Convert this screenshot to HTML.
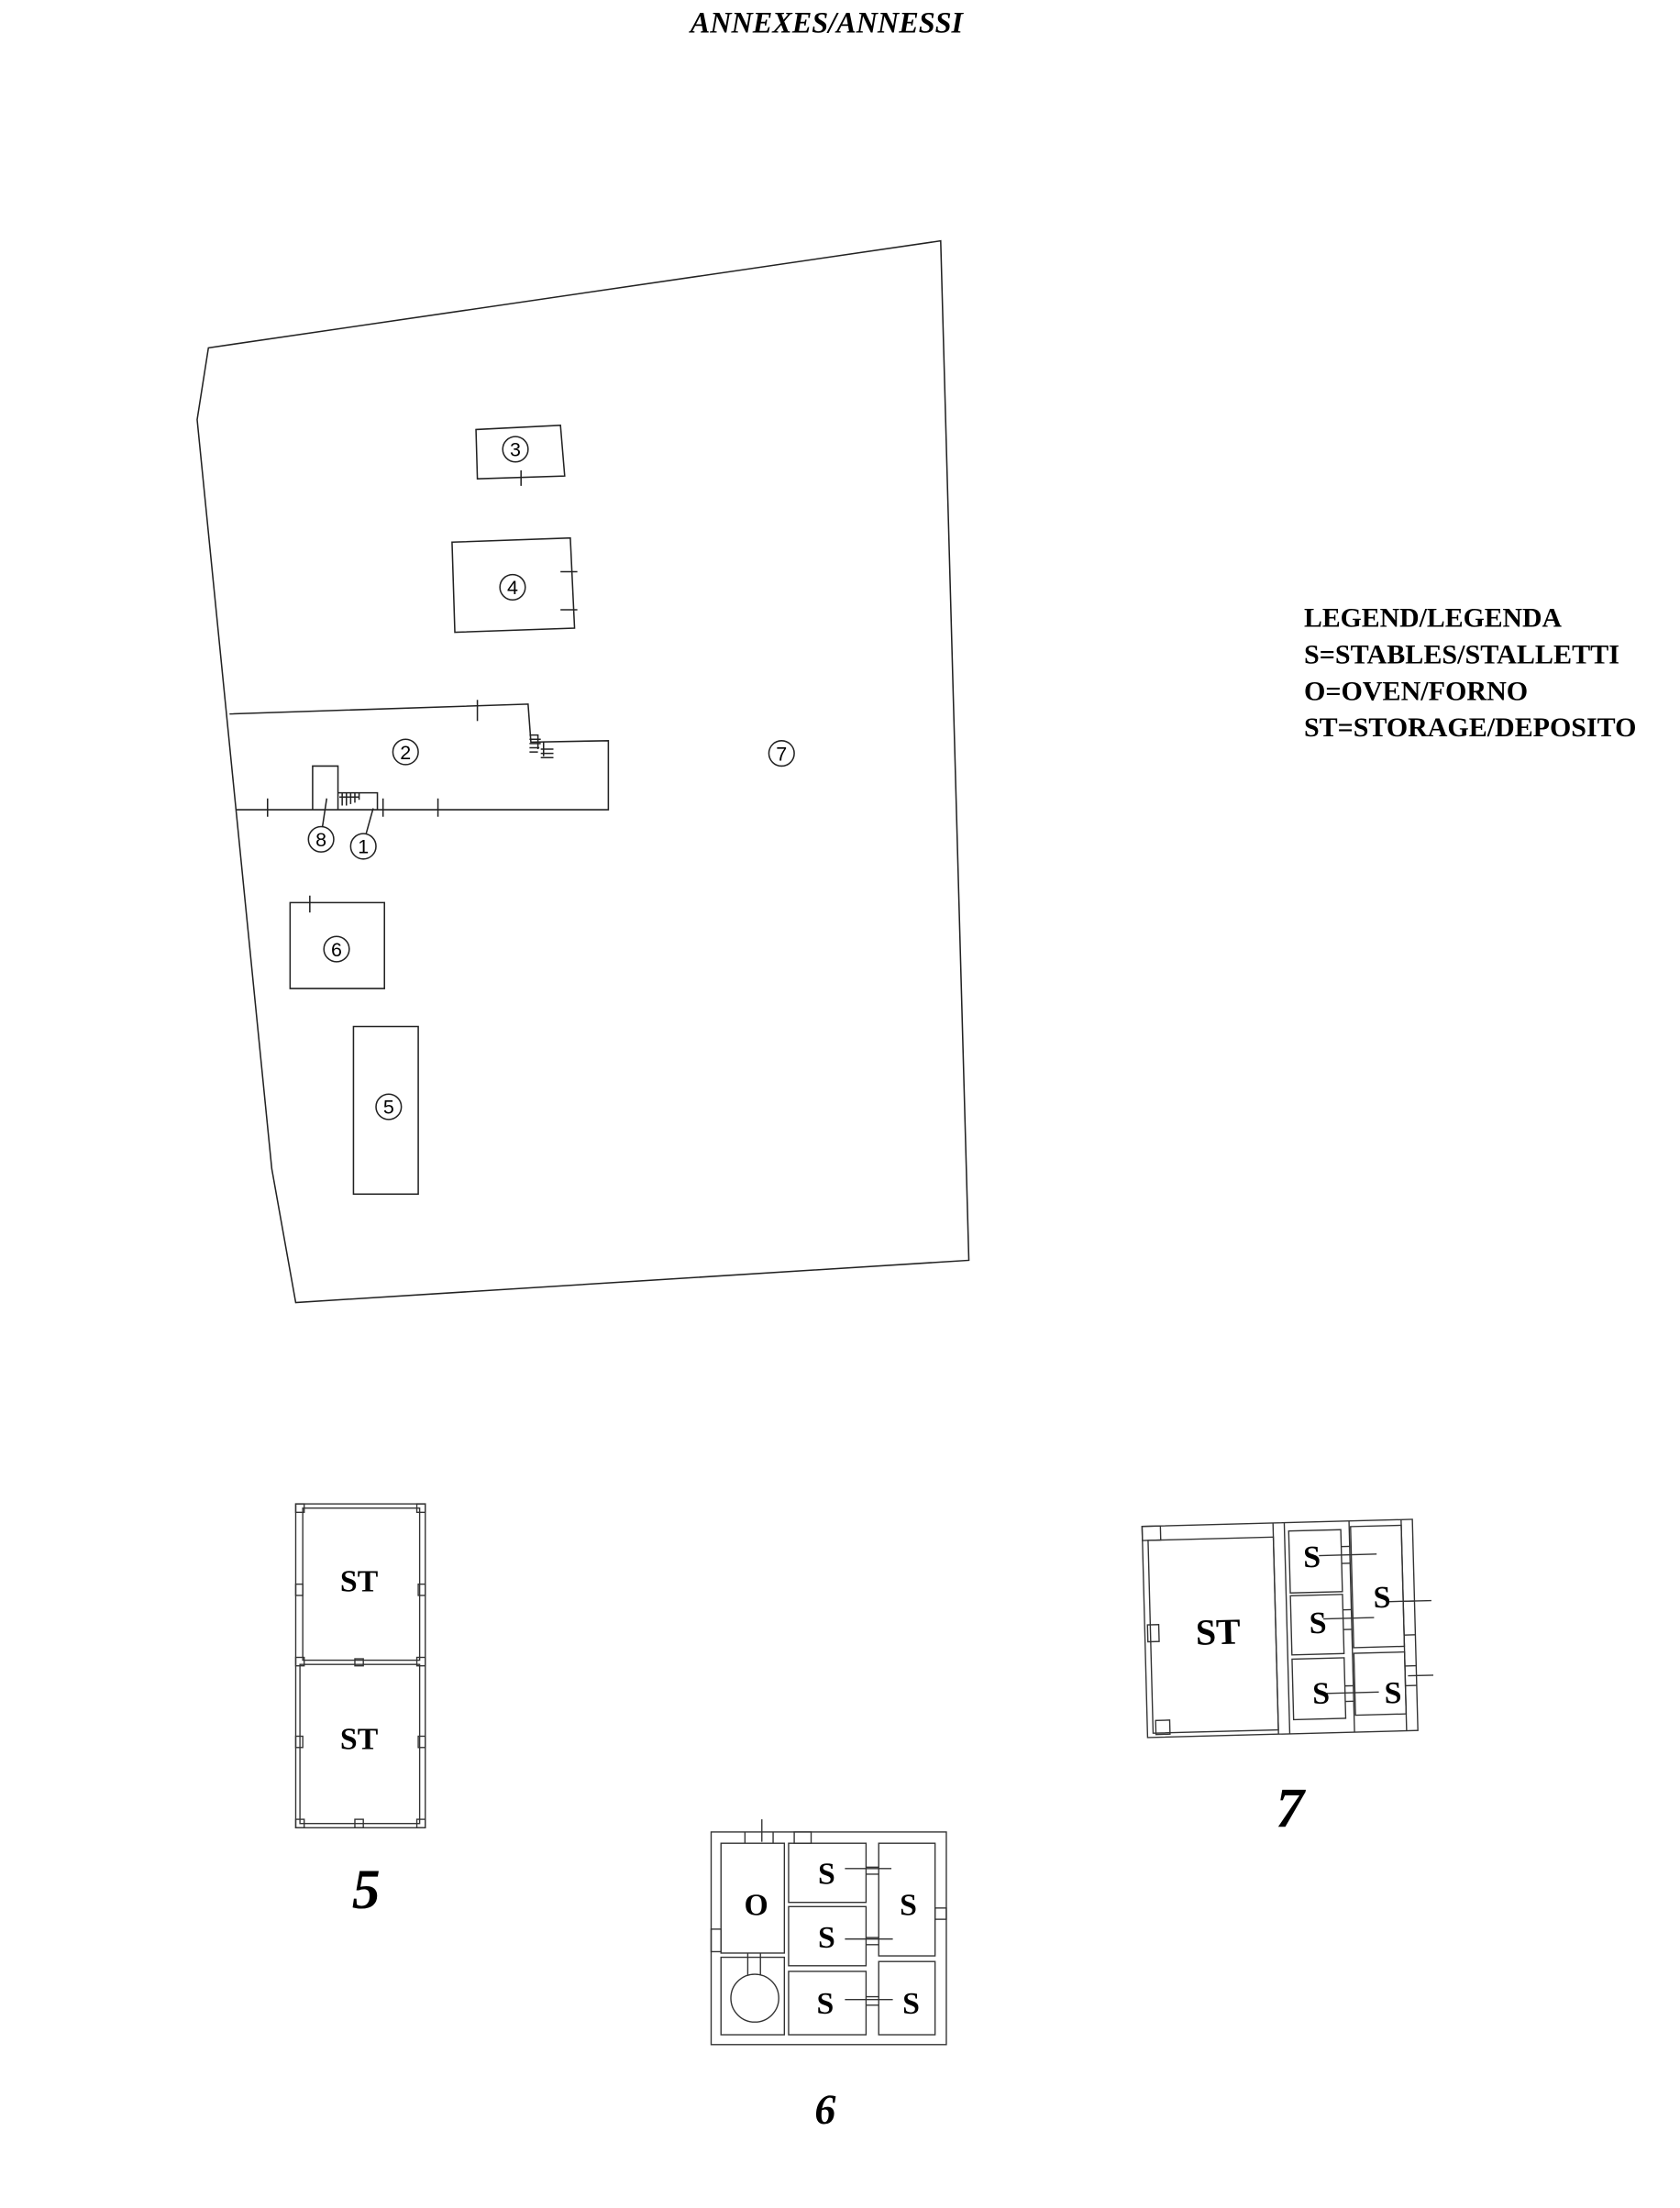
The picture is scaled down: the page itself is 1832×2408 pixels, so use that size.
<!DOCTYPE html>
<html><head><meta charset="utf-8"><style>
html,body{margin:0;padding:0;background:#fff}
svg{display:block}
text{font-family:"Liberation Serif",serif;font-weight:bold;fill:#000}
.c{font-family:"Liberation Sans",sans-serif;font-weight:normal;font-size:14px}
</style></head><body>
<svg width="1832" height="2408" viewBox="0 0 1193 1568" xmlns="http://www.w3.org/2000/svg">
<g fill="none" stroke="#222" stroke-width="1">
<polygon points="148,247 668,171 688,895 210,925 193,830 140,298"/>
<polygon points="338,305 398,302 401,338 339,340"/>
<line x1="370" y1="334" x2="370" y2="345"/>
<circle cx="366" cy="319" r="9"/>
<polygon points="321,385 405,382 408,446 323,449"/>
<line x1="398" y1="406" x2="410" y2="406"/><line x1="398" y1="433" x2="410" y2="433"/>
<circle cx="364" cy="417" r="9"/>
<polyline points="163,507 375,500 377,527 432,526 432,575 168,575"/>
<line x1="339" y1="497" x2="339" y2="512"/>
<line x1="190" y1="567" x2="190" y2="580"/><line x1="272" y1="567" x2="272" y2="580"/><line x1="311" y1="567" x2="311" y2="580"/>
<path d="M376,522 h6 v10 M376,525 h8 M376,528 h8 M376,531 h7 M376,534 h6 M386,527 v10 M384,532 h9 M384,535 h9 M384,538 h9"/>
<circle cx="288" cy="534" r="9"/>
<circle cx="555" cy="535" r="9"/>
<polyline points="222,575 222,544 240,544 240,575"/>
<polyline points="240,563 268,563 268,575"/>
<path d="M241,566 h14 M243,563 v9 M246,563 v9 M249,563 v8 M252,563 v7 M255,563 v5"/>
<line x1="232" y1="567" x2="229" y2="587"/>
<line x1="265" y1="574" x2="260" y2="592"/>
<circle cx="228" cy="596" r="9"/>
<circle cx="258" cy="601" r="9"/>
<polygon points="206,641 273,641 273,702 206,702"/>
<line x1="220" y1="636" x2="220" y2="648"/>
<circle cx="239" cy="674" r="9"/>
<polygon points="251,729 297,729 297,848 251,848"/>
<circle cx="276" cy="786" r="9"/>
</g>
<g text-anchor="middle">
<text class="c" x="366" y="324">3</text>
<text class="c" x="364" y="422">4</text>
<text class="c" x="288" y="539">2</text>
<text class="c" x="555" y="540">7</text>
<text class="c" x="228" y="601">8</text>
<text class="c" x="258" y="606">1</text>
<text class="c" x="239" y="679">6</text>
<text class="c" x="276" y="791">5</text>
</g>

<text x="587" y="23" text-anchor="middle" font-size="21" font-style="italic">ANNEXES/ANNESSI</text>
<g font-size="19">
<text x="926" y="445" textLength="183" lengthAdjust="spacingAndGlyphs">LEGEND/LEGENDA</text>
<text x="926" y="471" textLength="224" lengthAdjust="spacingAndGlyphs">S=STABLES/STALLETTI</text>
<text x="926" y="497" textLength="159" lengthAdjust="spacingAndGlyphs">O=OVEN/FORNO</text>
<text x="926" y="523" textLength="236" lengthAdjust="spacingAndGlyphs">ST=STORAGE/DEPOSITO</text>
</g>

<g fill="none" stroke="#333" stroke-width="0.9">
<rect x="210" y="1068" width="92" height="230"/>
<rect x="215" y="1071" width="83" height="108"/>
<rect x="213" y="1182" width="85" height="113"/>
<rect x="210" y="1068" width="6" height="6"/><rect x="296" y="1068" width="6" height="6"/>
<rect x="210" y="1292" width="6" height="6"/><rect x="296" y="1292" width="6" height="6"/>
<rect x="210" y="1177" width="6" height="6"/><rect x="296" y="1177" width="6" height="6"/>
<rect x="210" y="1125" width="5" height="8"/><rect x="297" y="1125" width="5" height="8"/>
<rect x="210" y="1233" width="5" height="8"/><rect x="297" y="1233" width="5" height="8"/>
<rect x="252" y="1178" width="6" height="5"/><rect x="252" y="1292" width="6" height="6"/>
</g>
<text x="255" y="1130" font-size="22" text-anchor="middle">ST</text>
<text x="255" y="1242" font-size="22" text-anchor="middle">ST</text>
<text x="260" y="1355" font-size="40" font-style="italic" text-anchor="middle">5</text>

<g fill="none" stroke="#333" stroke-width="0.9">
<rect x="505" y="1301" width="167" height="151"/>
<rect x="512" y="1309" width="45" height="78"/>
<path d="M512,1390 h45 v55 h-45 z"/>
<circle cx="536" cy="1419" r="17"/>
<path d="M531,1387 v16 M540,1387 v16"/>
<rect x="560" y="1309" width="55" height="42"/>
<rect x="560" y="1354" width="55" height="42"/>
<rect x="560" y="1400" width="55" height="45"/>
<rect x="624" y="1309" width="40" height="80"/>
<rect x="624" y="1393" width="40" height="52"/>
<rect x="564" y="1301" width="12" height="8"/>
<rect x="505" y="1370" width="7" height="16"/>
<rect x="664" y="1355" width="8" height="8"/>
<path d="M541,1292 v16"/>
<path d="M529,1301 v8 M549,1301 v8"/>
<path d="M615,1326 h9 M615,1331 h9 M615,1376 h9 M615,1381 h9 M615,1418 h9 M615,1424 h9"/>
<line x1="600" y1="1327" x2="633" y2="1327"/>
<line x1="600" y1="1377" x2="634" y2="1377"/>
<line x1="600" y1="1420" x2="634" y2="1420"/>
</g>
<text x="537" y="1360" font-size="22" text-anchor="middle">O</text>
<text x="587" y="1338" font-size="22" text-anchor="middle">S</text>
<text x="587" y="1383" font-size="22" text-anchor="middle">S</text>
<text x="586" y="1430" font-size="22" text-anchor="middle">S</text>
<text x="645" y="1360" font-size="22" text-anchor="middle">S</text>
<text x="647" y="1430" font-size="22" text-anchor="middle">S</text>
<text x="586" y="1508" font-size="30" font-style="italic" text-anchor="middle">6</text>

<g transform="translate(811,1084) rotate(-1.5)">
<g fill="none" stroke="#333" stroke-width="0.9">
<rect x="0" y="0" width="192" height="150"/>
<rect x="0" y="0" width="13" height="10"/>
<rect x="4" y="10" width="89" height="137"/>
<rect x="2" y="70" width="8" height="12"/>
<rect x="6" y="138" width="10" height="10"/>
<path d="M93,0 v150 M101,0 v150"/>
<rect x="104" y="6" width="37" height="44"/>
<rect x="104" y="52" width="37" height="42"/>
<rect x="104" y="97" width="37" height="43"/>
<path d="M147,0 v150 M184,0 v150"/>
<rect x="148" y="4" width="36" height="86"/>
<rect x="148" y="94" width="36" height="44"/>
<path d="M141,18 h6 M141,30 h6 M141,63 h6 M141,77 h6 M141,117 h6 M141,128 h6 M184,58 h8 M184,82 h8 M184,104 h8 M184,118 h8"/>
<line x1="125" y1="24" x2="166" y2="24"/>
<line x1="127" y1="69" x2="163" y2="69"/>
<line x1="128" y1="122" x2="165" y2="122"/>
<line x1="172" y1="58" x2="204" y2="58"/>
<line x1="186" y1="111" x2="204" y2="111"/>
</g>
<text x="120" y="32" font-size="22" text-anchor="middle">S</text>
<text x="123" y="79" font-size="22" text-anchor="middle">S</text>
<text x="124" y="129" font-size="22" text-anchor="middle">S</text>
<text x="169" y="62" font-size="22" text-anchor="middle">S</text>
<text x="175" y="130" font-size="22" text-anchor="middle">S</text>
<text x="52" y="85" font-size="26" text-anchor="middle">ST</text>
</g>
<text x="916" y="1297" font-size="40" font-style="italic" text-anchor="middle">7</text>
</svg>
</body></html>
